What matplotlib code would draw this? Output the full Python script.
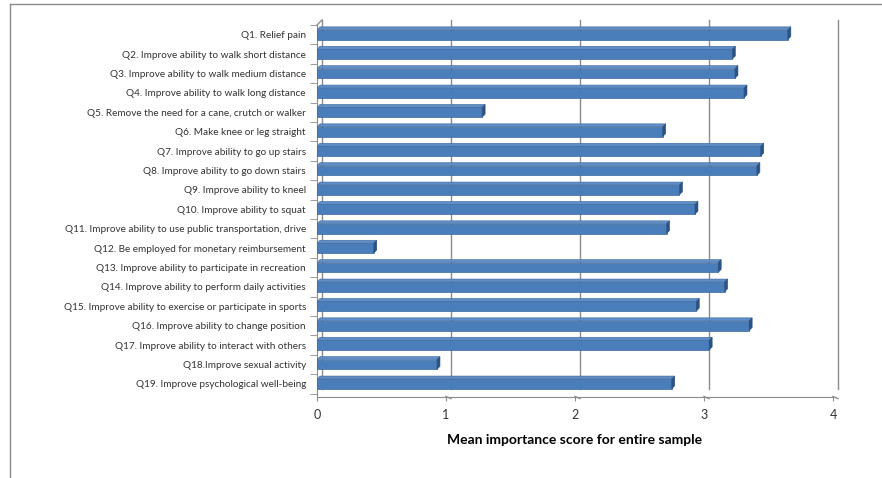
import matplotlib.pyplot as plt
import matplotlib.transforms as mtransforms
from matplotlib.patches import Polygon
from matplotlib.lines import Line2D

questions = [
    'Q1. Relief pain',
    'Q2. Improve ability to walk short distance',
    'Q3. Improve ability to walk medium distance',
    'Q4. Improve ability to walk long distance',
    'Q5. Remove the need for a cane, crutch or walker',
    'Q6. Make knee or leg straight',
    'Q7. Improve ability to go up stairs',
    'Q8. Improve ability to go down stairs',
    'Q9. Improve ability to kneel',
    'Q10. Improve ability to squat',
    'Q11. Improve ability to use public transportation, drive',
    'Q12. Be employed for monetary reimbursement',
    'Q13. Improve ability to participate in recreation',
    'Q14. Improve ability to perform daily activities',
    'Q15. Improve ability to exercise or participate in sports',
    'Q16. Improve ability to change position',
    'Q17. Improve ability to interact with others',
    'Q18.Improve sexual activity',
    'Q19. Improve psychological well-being',
]
mean_scores = [3.65, 3.22, 3.24, 3.31, 1.28, 2.68, 3.44, 3.41, 2.81, 2.93,
               2.71, 0.44, 3.11, 3.16, 2.94, 3.35, 3.04, 0.93, 2.75]
x_ticks = [0, 1, 2, 3, 4]

plt.rcParams['font.family'] = ['Lato', 'DejaVu Sans']

W, H = 882, 478
fig = plt.figure(figsize=(W / 100, H / 100), dpi=100)
ax_left, ax_right, ax_top, ax_bot = 317, 833, 25, 396.5
ax = fig.add_axes([ax_left / W, 1 - ax_bot / H, (ax_right - ax_left) / W, (ax_bot - ax_top) / H])

n = len(questions)
ypos = list(range(n))
xmax = 4
ylo, yhi = -0.5, n - 0.5 + 0.15
ax.set_xlim(0, xmax)
ax.set_ylim(yhi, ylo)

# pixel -> data unit sizes
px_x = xmax / (ax_right - ax_left)
px_y = (yhi - ylo) / (ax_bot - ax_top)

grey = '#8c8c8c'
# back wall drawn shifted right/up
wall = mtransforms.ScaledTranslation(0.05, 0.05, fig.dpi_scale_trans)
back = ax.transData + wall
for t in x_ticks[1:]:
    ax.plot([t, t], [ylo, yhi - 0.15], color=grey, lw=1, transform=back, clip_on=False, zorder=1)
    ax.plot([t + 5 * px_x, t], [yhi - 0.15 + 5 * px_y, yhi], color=grey, lw=1, clip_on=False, zorder=1)
ax.plot([0, 0], [ylo, yhi - 0.15], color=grey, lw=1, transform=back, clip_on=False, zorder=1)
ax.plot([0, 5 * px_x], [ylo, ylo - 5 * px_y], color=grey, lw=1, clip_on=False, zorder=1)

# 3-D looking bars: front face, top face and end face
h = 0.5
d = 3
for y, v in zip(ypos, mean_scores):
    ax.barh(y, v, height=h, color='#4A7EBB', edgecolor='#3C679A', lw=0.5, zorder=3)
    top = y - h / 2
    bot = y + h / 2
    ax.add_patch(Polygon([(0, top), (v, top), (v + d * px_x, top - d * px_y), (d * px_x, top - d * px_y)],
                         closed=True, facecolor='#5F8DC6', edgecolor='#3C679A', lw=0.4, zorder=3))
    ax.add_patch(Polygon([(v, top), (v + d * px_x, top - d * px_y), (v + d * px_x, bot - d * px_y), (v, bot)],
                         closed=True, facecolor='#2B5282', edgecolor='#2B5282', lw=0.4, zorder=3))

for s in ['top', 'right']:
    ax.spines[s].set_visible(False)
ax.spines['left'].set_color(grey)
ax.spines['bottom'].set_color(grey)

ax.set_xticks(x_ticks)
ax.set_xticklabels([str(t) for t in x_ticks], fontsize=9, color='#333333')
ax.tick_params(axis='x', length=3, color=grey, pad=6)

ax.set_yticks(ypos)
ax.set_yticklabels(questions, fontsize=7.2, color='#333333')
ax.set_yticks([i - 0.5 for i in range(n + 1)], minor=True)
ax.tick_params(axis='y', which='major', length=0, pad=8)
ax.tick_params(axis='y', which='minor', length=5, color=grey)

ax.set_xlabel('Mean importance score for entire sample', fontsize=10, fontweight='bold', labelpad=9)

# chart border
fig.add_artist(Line2D([10 / W, 10 / W], [0, 1 - 4 / H], color=grey, lw=1))
fig.add_artist(Line2D([10 / W, 1], [1 - 4 / H, 1 - 4 / H], color=grey, lw=1))

fig.savefig('out.png', dpi=100)
